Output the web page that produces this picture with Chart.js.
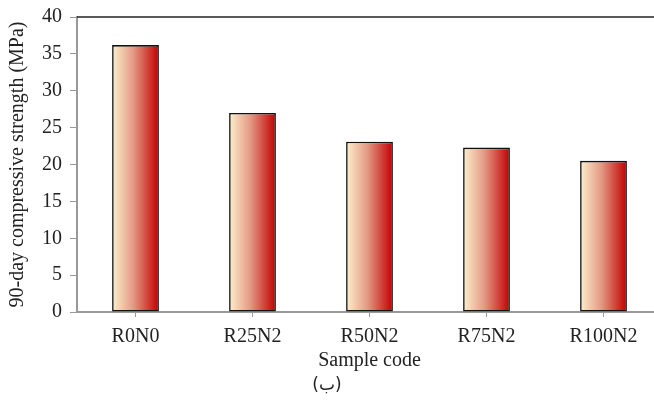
<!DOCTYPE html>
<html>
<head>
<meta charset="utf-8">
<script src="https://cdn.jsdelivr.net/npm/chart.js@4.4.0/dist/chart.umd.min.js"></script>
<style>
  html, body { margin: 0; padding: 0; background: #fff; overflow: hidden; width: 654px; height: 405px; }
  canvas { display: block; }
</style>
</head>
<body>
<canvas id="myChart" width="680" height="405"></canvas>
<script>
'use strict';

const samples = ['R0N0', 'R25N2', 'R50N2', 'R75N2', 'R100N2'];
const strength90 = [36.2, 27.0, 23.1, 22.3, 20.5];
const yTicks = [0, 5, 10, 15, 20, 25, 30, 35, 40];
const yTitle = '90-day compressive strength (MPa)';
const xTitle = 'Sample code';
const caption = '(ب)';

const serif = 'Liberation Serif';

// horizontal cream -> red fill, one gradient per bar
function barFill(c) {
  const chart = c.chart;
  const xs = chart.scales.x;
  if (!xs || !chart.chartArea) return '#d04040';
  const cx = xs.getPixelForValue(c.dataIndex);
  const half = xs.width / samples.length * 0.4 / 2;
  const g = chart.ctx.createLinearGradient(cx - half, 0, cx + half, 0);
  g.addColorStop(0, '#fcf0cb');
  g.addColorStop(0.45, '#e49a86');
  g.addColorStop(1, '#c00000');
  return g;
}

const extras = {
  id: 'extras',
  afterDraw(chart) {
    const { ctx, chartArea } = chart;
    ctx.save();
    ctx.strokeStyle = '#222';
    ctx.lineWidth = 1.5;
    ctx.beginPath();
    ctx.moveTo(chartArea.left, chartArea.top);
    ctx.lineTo(chart.width, chartArea.top);
    ctx.stroke();
    ctx.fillStyle = '#222';
    ctx.font = '17px "DejaVu Sans"';
    ctx.textAlign = 'center';
    ctx.textBaseline = 'middle';
    ctx.fillText(caption, 327, 386);
    ctx.restore();
  }
};

let ctx = document.getElementById('myChart').getContext('2d');
let myChart = new Chart(ctx, {
  type: 'bar',
  data: {
    labels: samples,
    datasets: [{
      data: strength90,
      backgroundColor: barFill,
      borderColor: '#111',
      borderWidth: 1.6,
      borderSkipped: false,
      barPercentage: 0.4,
      categoryPercentage: 1
    }]
  },
  options: {
    responsive: false,
    animation: false,
    layout: { padding: { top: 17, right: 18, bottom: 32, left: 0 } },
    plugins: { legend: { display: false }, tooltip: { enabled: false } },
    scales: {
      x: {
        afterFit(s) { s.height = 61; },
        grid: { display: true, drawOnChartArea: false, drawTicks: true, tickLength: 5, color: '#999', offset: false },
        border: { color: '#999', width: 2 },
        ticks: { color: '#222', font: { family: serif, size: 20 }, padding: 8 },
        title: { display: true, text: xTitle, color: '#222', font: { family: serif, size: 20 }, padding: { top: 0, bottom: 0 } }
      },
      y: {
        min: 0,
        max: 40,
        afterBuildTicks(s) { s.ticks = yTicks.map(v => ({ value: v })); },
        afterFit(s) { s.width = 77; s.paddingTop = 0; s.paddingBottom = 0; },
        grid: { drawOnChartArea: false, drawTicks: true, tickLength: 7, color: '#999' },
        border: { color: '#999', width: 2 },
        ticks: { color: '#222', font: { family: serif, size: 20 }, padding: 8 },
        title: { display: true, text: yTitle, color: '#222', font: { family: serif, size: 20 }, padding: { top: 6, bottom: 6 } }
      }
    }
  },
  plugins: [extras]
});
</script>
</body>
</html>
